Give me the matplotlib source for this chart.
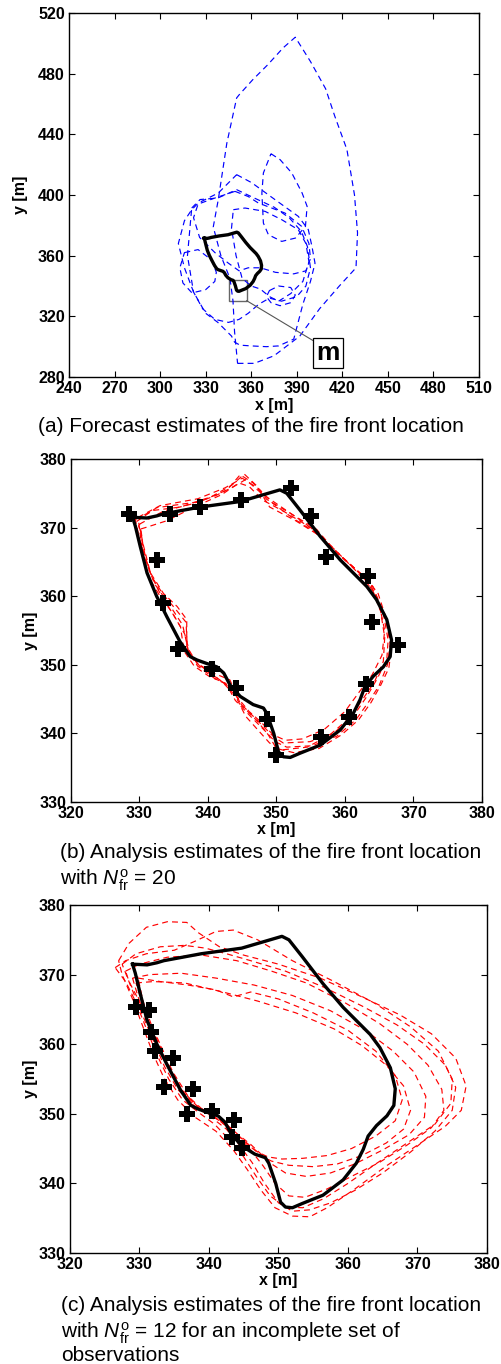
import matplotlib
matplotlib.use('Agg')
import matplotlib.pyplot as plt
from matplotlib.patches import Rectangle

plt.rcParams['font.family'] = ['Liberation Sans', 'DejaVu Sans']
plt.rcParams['mathtext.fontset'] = 'custom'
plt.rcParams['mathtext.rm'] = 'Liberation Sans'
plt.rcParams['mathtext.it'] = 'Liberation Sans:italic'

# true fire front (same in every panel)
truth_x = [329.0, 331.1, 332.5, 333.5, 338.9, 344.7, 350.5, 351.5, 353.4, 356.4, 359.3, 361.2, 363.2, 364.6,
           366.1, 366.8, 366.6, 365.6, 364.1, 362.9, 362.2, 361.2, 359.3, 356.4, 353.4, 352.0, 351.0, 350.3,
           349.6, 348.6, 348.1, 346.6, 344.7, 343.2, 342.3, 341.3, 339.8, 338.4, 337.4, 335.9, 334.0, 332.5,
           331.1, 330.1, 329.4, 329.0]
truth_y = [371.5, 371.4, 371.7, 372.0, 373.0, 373.8, 375.5, 375.0, 372.6, 368.7, 365.3, 363.4, 361.4, 359.5,
           356.6, 353.6, 351.2, 349.7, 348.3, 346.8, 344.9, 342.9, 340.5, 338.3, 337.1, 336.5, 336.6, 337.3,
           340.0, 342.9, 343.7, 344.2, 345.4, 347.1, 348.8, 349.7, 350.2, 350.7, 351.2, 353.4, 357.0, 360.0,
           363.4, 367.3, 370.2, 371.5]

# (a) forecast ensemble
forecast_x = [
    [351, 362, 375, 392, 405, 418, 429, 430, 428, 423, 415, 409, 399, 389, 381, 371, 361, 352, 350.4, 343.9,
     338.3, 335, 340, 346, 348, 349, 351],
    [373.0, 379.0, 386.7, 393.5, 396.8, 395.7, 389.1, 380.1, 371.3, 368.0, 367.0, 368.0, 373.0],
    [350.4, 360.3, 375.7, 391.0, 397.6, 400, 402, 399, 394, 388, 378, 370, 360, 352.6, 349, 347, 338, 330,
     322, 316, 312, 316, 320.8, 325.1, 338.3, 350.4],
    [349.3, 358, 364.7, 382.2, 393.2, 398, 399, 396, 388, 376, 366, 358, 352, 345, 336.1, 326, 322, 325,
     336.1, 349.3],
    [348.2, 355.9, 369.1, 380.1, 391.0, 396, 398, 394, 386, 378, 372, 366, 360, 354, 350, 347, 348.2],
    [316, 325, 334, 337, 336, 330, 321, 315, 313, 316],
    [372, 378, 386, 389, 386, 379, 373, 370, 372],
    [320.8, 326.3, 338, 350.4, 362, 375, 385, 393, 397, 399, 396, 390, 380, 372, 365, 358, 352, 345, 336,
     328, 322, 318, 320.8],
]
forecast_y = [
    [289, 289, 294, 307, 325, 340, 352, 375, 400, 430, 452, 470, 488, 504, 497, 486, 476, 466, 464, 434,
     397, 379, 360, 345, 330, 310, 289],
    [427.2, 423.3, 414.5, 401.3, 392.5, 379.3, 371.6, 369.4, 373.8, 381.5, 401.3, 414.5, 427.2],
    [413.4, 408.1, 396.9, 385.9, 377.1, 366, 355, 343, 328, 305, 300.5, 300, 300.5, 301, 303, 307, 316,
     322, 336, 352, 368, 383, 390.3, 394.7, 401.3, 413.4],
    [402.4, 399, 394.7, 388.1, 379.3, 368, 358, 350, 348, 349, 352, 352, 350, 355, 362, 372, 385, 394,
     398.0, 402.4],
    [390.3, 391.4, 389.2, 383.7, 377.1, 368, 356, 343, 335, 330, 333, 338, 340, 345, 360, 378, 390.3],
    [362, 364, 357, 349, 343, 337.6, 335.4, 342, 352, 362],
    [337, 340, 339, 334, 329, 327, 329, 333, 337],
    [391.4, 397, 398, 403.5, 398, 392, 385, 376, 366, 352, 340, 333, 330, 332, 328, 322, 318, 316, 318,
     325, 336, 360, 391.4],
]

# (b) analysis ensemble, 20 observations
obs_b_x = [328.4, 334.4, 338.9, 344.8, 352.1, 355.1, 357.2, 363.4, 363.9, 367.8, 363.0, 360.6, 356.5, 349.9,
           348.6, 344.1, 340.6, 335.6, 333.4, 332.5]
obs_b_y = [372.0, 372.0, 373.0, 374.0, 375.7, 371.7, 365.7, 363.0, 356.3, 352.9, 347.2, 342.4, 339.5, 336.9,
           342.1, 346.6, 349.4, 352.3, 359.0, 365.3]
analysis_b_x = [
    [329.6, 332.5, 338.9, 342.8, 344.7, 346.6, 348.6, 352.0, 355.9, 358.8, 362.2, 364.1, 365.6, 366.3, 366.1,
     364.6, 363.2, 361.2, 358.3, 354.9, 351.0, 349.6, 348.1, 346.2, 344.7, 343.2, 340.8, 338.4, 336.9, 336.9,
     335.5, 333.5, 331.6, 330.6, 330.1, 329.6],
    [329.8, 333.0, 338.5, 342.5, 345.0, 347.5, 349.5, 352.5, 356.5, 359.5, 362.8, 364.8, 366.0, 366.6, 366.2,
     365.0, 363.6, 361.6, 358.8, 355.2, 351.5, 349.8, 348.5, 346.5, 344.0, 342.6, 340.2, 338.0, 336.5, 336.0,
     334.8, 333.0, 331.2, 330.4, 330.0, 329.8],
    [330.2, 331.5, 334.0, 338.0, 342.0, 344.5, 346.0, 348.0, 351.0, 355.0, 358.5, 361.5, 364.0, 365.2, 365.8,
     365.6, 364.3, 362.6, 360.6, 357.8, 354.5, 350.8, 349.0, 347.2, 345.5, 344.0, 342.0, 339.5, 337.5, 336.6,
     335.0, 332.8, 331.2, 330.5, 330.2],
    [329.4, 332.0, 336.0, 340.5, 343.5, 345.3, 347.0, 349.0, 352.8, 356.0, 359.2, 362.5, 364.6, 366.0, 366.8,
     366.4, 365.2, 363.8, 362.0, 359.5, 356.2, 352.5, 350.0, 348.8, 347.2, 345.0, 343.5, 341.0, 338.8, 337.2,
     336.3, 334.2, 332.2, 330.8, 329.9, 329.4],
    [330.0, 333.5, 337.5, 341.0, 343.8, 345.5, 347.8, 351.0, 354.2, 357.5, 360.8, 363.5, 365.0, 365.8, 365.4,
     364.0, 362.2, 360.0, 357.0, 353.8, 351.3, 349.5, 347.8, 346.0, 344.5, 343.0, 341.0, 338.5, 337.0, 336.8,
     335.2, 333.5, 331.8, 330.6, 330.0],
]
analysis_b_y = [
    [370.9, 372.9, 373.8, 375.5, 377.7, 376.5, 374.1, 372.1, 369.7, 366.3, 363.4, 361.4, 357.5, 353.6, 350.7,
     347.8, 345.4, 342.5, 340.0, 338.8, 338.6, 339.5, 341.0, 342.9, 344.4, 347.8, 348.8, 350.2, 352.7, 356.6,
     358.5, 360.4, 363.4, 367.3, 369.7, 370.9],
    [371.5, 373.2, 374.2, 375.8, 377.2, 375.6, 373.5, 371.3, 368.8, 365.8, 362.8, 360.5, 356.8, 353.0, 350.0,
     347.0, 344.8, 342.0, 339.6, 338.2, 338.0, 338.8, 340.2, 342.2, 344.8, 347.3, 348.3, 349.8, 352.0, 355.5,
     357.6, 360.0, 363.0, 366.8, 369.8, 371.5],
    [369.8, 370.2, 371.0, 373.0, 374.8, 376.5, 376.0, 374.0, 372.4, 370.0, 366.8, 363.8, 361.0, 357.8, 354.0,
     350.5, 347.5, 345.0, 342.2, 339.8, 338.0, 337.6, 338.6, 340.6, 342.5, 345.5, 347.6, 349.4, 351.2, 354.5,
     357.2, 360.8, 364.2, 367.5, 369.8],
    [371.2, 372.5, 373.0, 374.5, 376.2, 377.8, 376.2, 373.0, 371.0, 369.0, 366.0, 363.0, 360.0, 356.5, 352.5,
     349.5, 347.0, 344.5, 342.0, 339.8, 337.8, 337.2, 337.8, 339.8, 341.8, 344.0, 346.5, 348.3, 349.8, 351.8,
     355.8, 359.0, 361.8, 365.5, 368.8, 371.2],
    [370.5, 372.4, 373.4, 374.6, 376.0, 377.0, 375.0, 372.8, 370.6, 367.6, 364.6, 362.2, 358.8, 355.0, 351.4,
     348.6, 346.2, 343.2, 340.6, 339.2, 339.0, 339.8, 341.6, 343.2, 345.0, 347.0, 348.0, 349.8, 352.0, 356.2,
     358.2, 360.2, 362.8, 366.5, 370.5],
]

# (c) analysis ensemble, 12 observations on the west flank only
obs_c_x = [329.5, 331.4, 331.7, 332.3, 334.8, 333.5, 337.7, 336.9, 340.5, 343.6, 343.3, 344.8]
obs_c_y = [365.4, 364.9, 361.7, 359.0, 358.0, 353.8, 353.5, 350.0, 350.4, 349.1, 346.6, 345.1]
analysis_c_x = [
    [327.0, 328.5, 331.0, 334.0, 336.8, 338.5, 341.5, 345.0, 350.0, 356.0, 362.0, 367.5, 372.0, 375.5, 377.0,
     376.3, 374.0, 370.0, 365.5, 361.0, 357.0, 354.5, 352.0, 349.5, 347.5, 345.5, 343.5, 341.0, 338.0, 335.5,
     333.5, 332.0, 330.5, 329.0, 327.5, 327.0],
    [326.5, 328.0, 331.0, 335.0, 338.0, 341.0, 343.5, 347.0, 352.0, 358.0, 364.0, 369.0, 373.0, 375.0, 374.8,
     372.5, 368.5, 364.0, 360.0, 356.5, 353.5, 351.0, 348.8, 346.8, 345.0, 343.0, 340.8, 338.5, 336.2, 334.2,
     332.5, 331.0, 329.5, 328.0, 326.5],
    [328.0, 330.0, 334.0, 339.0, 344.0, 349.0, 354.0, 359.5, 364.5, 368.5, 371.5, 373.5, 373.8, 372.0, 368.5,
     364.5, 360.5, 357.0, 353.8, 351.5, 349.5, 347.8, 346.0, 344.5, 342.8, 340.5, 338.0, 336.0, 334.2, 332.8,
     331.2, 329.8, 328.5, 328.0],
    [329.0, 331.5, 336.0, 341.0, 346.5, 352.0, 357.5, 362.5, 366.5, 369.5, 371.2, 371.0, 368.8, 365.0, 361.0,
     357.5, 354.0, 351.0, 349.0, 347.5, 346.0, 344.2, 342.5, 340.5, 338.2, 336.0, 334.0, 332.5, 331.0, 329.8,
     329.0],
    [329.5, 332.0, 336.5, 342.0, 347.0, 352.5, 358.0, 362.0, 365.5, 368.0, 369.0, 368.0, 365.5, 362.0, 358.5,
     355.0, 351.5, 349.0, 347.8, 346.3, 344.5, 342.8, 340.8, 338.6, 336.4, 334.3, 332.8, 331.3, 330.2, 329.5],
    [329.8, 333.0, 337.0, 341.0, 343.5, 346.0, 350.0, 355.0, 360.0, 364.0, 366.8, 367.8, 366.8, 364.0, 360.5,
     357.0, 353.5, 350.5, 348.5, 347.0, 345.2, 343.5, 341.5, 339.2, 337.0, 334.8, 333.2, 331.7, 330.5, 329.8],
    [327.5, 329.5, 333.0, 336.5, 339.5, 342.5, 346.0, 351.0, 356.5, 362.0, 367.0, 371.0, 374.0, 375.5, 375.0,
     372.5, 369.0, 365.0, 361.0, 357.5, 354.5, 352.0, 350.0, 348.0, 346.2, 344.3, 342.5, 340.2, 337.8, 335.5,
     333.6, 332.0, 330.3, 328.8, 327.5],
]
analysis_c_y = [
    [372.0, 374.5, 376.8, 377.6, 377.5, 376.0, 374.0, 372.8, 371.5, 369.5, 366.8, 364.2, 361.5, 358.0, 354.0,
     350.5, 348.2, 345.5, 342.5, 339.2, 336.5, 335.2, 335.3, 336.5, 339.0, 342.0, 344.8, 347.5, 349.5, 352.0,
     355.2, 358.5, 362.5, 366.5, 370.0, 372.0],
    [371.0, 372.0, 373.0, 373.5, 374.8, 376.2, 376.4, 375.0, 372.0, 369.0, 365.8, 362.5, 359.0, 355.0, 351.5,
     348.5, 345.8, 342.8, 340.0, 337.8, 336.5, 336.6, 338.2, 341.0, 343.8, 346.2, 348.5, 350.2, 352.0, 355.0,
     358.5, 362.2, 366.0, 369.0, 371.0],
    [370.5, 371.5, 372.5, 372.8, 372.0, 370.5, 368.8, 366.0, 363.0, 360.0, 357.0, 353.5, 350.5, 348.0, 345.5,
     343.0, 341.0, 339.2, 338.0, 338.2, 340.0, 342.5, 344.8, 346.5, 348.0, 349.8, 351.0, 353.5, 356.8, 360.0,
     363.5, 366.5, 369.0, 370.5],
    [369.5, 370.0, 370.2, 369.5, 368.5, 367.0, 364.8, 362.0, 359.0, 356.0, 352.5, 349.5, 347.0, 344.8, 342.8,
     341.5, 341.0, 341.5, 342.8, 344.2, 345.6, 347.0, 348.5, 349.8, 351.2, 353.5, 357.0, 360.2, 363.5, 366.8,
     369.5],
    [368.8, 369.0, 368.8, 367.5, 366.2, 364.5, 362.2, 359.8, 357.0, 354.0, 350.5, 347.8, 345.8, 344.0, 342.8,
     342.4, 342.6, 343.2, 343.8, 345.0, 346.6, 348.2, 349.5, 350.8, 353.0, 356.5, 360.0, 363.2, 366.5, 368.8],
    [369.5, 369.0, 368.5, 367.8, 366.8, 367.5, 366.5, 364.5, 362.0, 359.0, 355.5, 352.0, 349.0, 346.8, 345.0,
     344.0, 343.6, 343.5, 343.8, 344.5, 346.0, 347.5, 349.0, 350.5, 352.5, 356.0, 359.5, 362.8, 366.2, 369.5],
    [371.5, 373.0, 374.0, 374.2, 373.8, 373.0, 372.0, 370.5, 368.2, 365.5, 362.8, 360.0, 357.0, 353.8, 350.5,
     347.5, 344.5, 341.5, 339.0, 337.2, 336.2, 336.0, 337.2, 340.0, 343.0, 345.6, 347.8, 349.6, 351.2, 353.5,
     356.8, 360.5, 364.5, 368.2, 371.5],
]

caption_a = ["(a) Forecast estimates of the fire front location"]
caption_b = ["(b) Analysis estimates of the fire front location",
             "with $N_{\\rm fr}^{\\rm o}$ = 20"]
caption_c = ["(c) Analysis estimates of the fire front location",
             "with $N_{\\rm fr}^{\\rm o}$ = 12 for an incomplete set of",
             "observations"]


def style(ax, xlim, ylim, xstep, ystep, ylab_x, xlab_y):
    ax.set_xlim(*xlim)
    ax.set_ylim(*ylim)
    ax.set_xticks(range(xlim[0], xlim[1] + 1, xstep))
    ax.set_yticks(range(ylim[0], ylim[1] + 1, ystep))
    ax.tick_params(direction='in', top=True, right=True, length=4, width=0.8, labelsize=11.5, pad=3)
    for lab in ax.get_xticklabels() + ax.get_yticklabels():
        lab.set_fontweight('bold')
    for s in ax.spines.values():
        s.set_linewidth(1.0)
    ax.set_xlabel('x [m]', fontsize=11.5, fontweight='bold')
    ax.set_ylabel('y [m]', fontsize=11.5, fontweight='bold')
    ax.xaxis.set_label_coords(0.5, xlab_y)
    ax.yaxis.set_label_coords(ylab_x, 0.5)


fig = plt.figure(figsize=(5.02, 13.64), dpi=100)

# (a)
ax = fig.add_axes([0.1375, 0.7236, 0.8167, 0.2669])
for xs, ys in zip(forecast_x, forecast_y):
    ax.plot(xs, ys, color='blue', lw=0.85, dashes=(5, 3.5))
ax.plot(truth_x, truth_y, color='black', lw=2.4, solid_joinstyle='round')
ax.add_patch(Rectangle((345.6, 330.3), 11.4, 13.9, fill=False, edgecolor='#666666', lw=1.0))
ax.plot([357.0, 400.4], [330.3, 304.2], color='#555555', lw=0.8)
ax.text(410.5, 296, 'm', fontsize=19, fontweight='bold', ha='center', va='center',
        bbox=dict(boxstyle='square,pad=0.12', fc='white', ec='black', lw=0.9))
style(ax, (240, 510), (280, 520), 30, 40, -0.100, -0.058)

# (b)
ax = fig.add_axes([0.1414, 0.4120, 0.8187, 0.2515])
for xs, ys in zip(analysis_b_x, analysis_b_y):
    ax.plot(xs, ys, color='red', lw=0.85, dashes=(5, 3.5))
ax.plot(truth_x, truth_y, color='black', lw=2.4, solid_joinstyle='round')
ax.plot(obs_b_x, obs_b_y, 'P', color='black', ms=11, mew=0)
style(ax, (320, 380), (330, 380), 10, 10, -0.080, -0.058)

# (c)
ax = fig.add_axes([0.1394, 0.0814, 0.8307, 0.2551])
for xs, ys in zip(analysis_c_x, analysis_c_y):
    ax.plot(xs, ys, color='red', lw=0.85, dashes=(5, 3.5))
ax.plot(truth_x, truth_y, color='black', lw=2.4, solid_joinstyle='round')
ax.plot(obs_c_x, obs_c_y, 'P', color='black', ms=11, mew=0)
style(ax, (320, 380), (330, 380), 10, 10, -0.077, -0.057)

# captions, one text per line (baselines in pixels from the top)
fig.text(0.5, 1 - 432 / 1364, caption_a[0], ha='center', va='baseline', fontsize=15)
for line, base in zip(caption_b, [858, 885]):
    fig.text(60 / 502, 1 - base / 1364, line, ha='left', va='baseline', fontsize=15)
for line, base in zip(caption_c, [1311, 1338, 1361]):
    fig.text(61 / 502, 1 - base / 1364, line, ha='left', va='baseline', fontsize=15)

fig.savefig('out.png', dpi=100)
